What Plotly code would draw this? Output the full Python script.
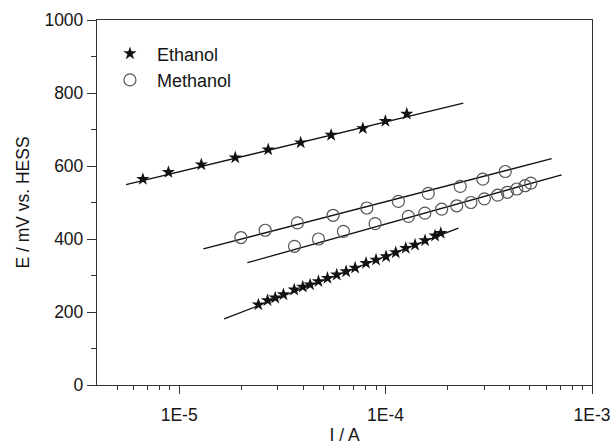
import plotly.graph_objects as go

# ---- data ----
a_x = [6.67e-6, 8.87e-6, 1.28e-5, 1.87e-5, 2.70e-5, 3.88e-5, 5.45e-5, 7.76e-5, 9.98e-5, 1.267e-4]
a_y = [564, 583, 604, 623, 645, 664, 685, 703, 723, 743]
a_fit_x = [5.53e-6, 2.38e-4]
a_fit_y = [549, 772]

b_x = [1.99e-5, 2.61e-5, 3.74e-5, 5.57e-5, 8.11e-5, 1.153e-4, 1.61e-4, 2.30e-4, 2.96e-4, 3.80e-4]
b_y = [404, 424, 444, 465, 485, 503, 525, 544, 564, 585]
b_fit_x = [1.31e-5, 6.38e-4]
b_fit_y = [373, 620]

c_x = [3.62e-5, 4.73e-5, 6.25e-5, 8.90e-5, 1.29e-4, 1.55e-4, 1.87e-4, 2.21e-4, 2.59e-4,
       3.01e-4, 3.49e-4, 3.89e-4, 4.32e-4, 4.74e-4, 5.05e-4]
c_y = [380, 400, 421, 442, 462, 471, 482, 491, 500, 510, 520, 528, 537, 546, 553]
c_fit_x = [2.14e-5, 7.13e-4]
c_fit_y = [335, 576]

d_x = [2.42e-5, 2.68e-5, 2.92e-5, 3.20e-5, 3.61e-5, 3.97e-5, 4.31e-5, 4.73e-5, 5.23e-5,
       5.80e-5, 6.44e-5, 7.12e-5, 8.04e-5, 8.99e-5, 1.006e-4, 1.12e-4, 1.252e-4, 1.389e-4,
       1.553e-4, 1.737e-4, 1.851e-4]
d_y = [220, 232, 239, 248, 261, 269, 275, 284, 293, 302, 311, 321, 334, 343, 352, 363,
       375, 384, 396, 409, 416]
d_fit_x = [1.652e-5, 2.252e-4]
d_fit_y = [181, 430]

curve_labels = ["a", "b", "c", "d"]
x_tickvals = [1e-5, 1e-4, 1e-3]
x_ticktext = ["1E-5", "1E-4", "1E-3"]
x_minor = [m * 10.0 ** e for e in (-6, -5, -4) for m in range(2, 10) if m * 10.0 ** e > 4.1e-6]
y_tickvals = [0, 200, 400, 600, 800, 1000]
y_minor = [100, 300, 500, 700, 900]

FONT = "Liberation Sans, Arial, Helvetica, sans-serif"
TXT = "#151515"

fig = go.Figure()

fits = [(a_fit_x, a_fit_y), (b_fit_x, b_fit_y), (c_fit_x, c_fit_y), (d_fit_x, d_fit_y)]
for fx, fy in fits:
    fig.add_trace(go.Scatter(x=fx, y=fy, mode="lines", showlegend=False,
                             line=dict(color="#111", width=1.3), hoverinfo="skip"))

star = dict(symbol="star", size=10, color="#111", line=dict(width=0))
circ = dict(symbol="circle-open", size=12, color="#555", line=dict(width=1.2, color="#555"))

fig.add_trace(go.Scatter(x=a_x, y=a_y, mode="markers", name="Ethanol", marker=star,
                         legendgroup="eth"))
fig.add_trace(go.Scatter(x=d_x, y=d_y, mode="markers", name="Ethanol", marker=star,
                         legendgroup="eth", showlegend=False))
fig.add_trace(go.Scatter(x=b_x, y=b_y, mode="markers", name="Methanol", marker=circ,
                         legendgroup="meth"))
fig.add_trace(go.Scatter(x=c_x, y=c_y, mode="markers", name="Methanol", marker=circ,
                         legendgroup="meth", showlegend=False))

for lab, (fx, fy), dy in zip(curve_labels, fits, [2, 2, -4, 0]):
    fig.add_annotation(x=fx[-1], y=fy[-1], text=lab, showarrow=False, xref="x", yref="y",
                       xanchor="left", yanchor="middle", xshift=6, yshift=dy,
                       font=dict(family=FONT, size=18, color=TXT))

fig.update_layout(
    width=615, height=445,
    margin=dict(l=97, r=23, t=20, b=60),
    paper_bgcolor="white", plot_bgcolor="white",
    font=dict(family=FONT, size=17.5, color=TXT),
    legend=dict(x=0.012, y=0.958, xanchor="left", yanchor="top",
                bgcolor="rgba(0,0,0,0)", font=dict(family=FONT, size=18, color=TXT),
                itemwidth=44, tracegroupgap=0),
    xaxis=dict(type="log", range=[-5.398, -3.0], showgrid=False, zeroline=False,
               showline=True, linecolor="#333", linewidth=1.3, mirror=True,
               ticks="outside", ticklen=8, tickwidth=1.2, tickcolor="#333",
               tickvals=x_tickvals, ticktext=x_ticktext, ticklabelstandoff=6,
               tickfont=dict(family=FONT, size=17.5, color=TXT),
               automargin=False,
               minor=dict(ticks="outside", ticklen=4, tickwidth=1.1, tickcolor="#333",
                          tickvals=x_minor, showgrid=False),
               title=dict(text="I / A", font=dict(family=FONT, size=17.5, color=TXT), standoff=12)),
    yaxis=dict(range=[0, 1000], showgrid=False, zeroline=False,
               showline=True, linecolor="#333", linewidth=1.3, mirror=True,
               ticks="outside", ticklen=9, tickwidth=1.2, tickcolor="#333",
               tickvals=y_tickvals, automargin=False,
               tickfont=dict(family=FONT, size=17.5, color=TXT),
               minor=dict(ticks="outside", ticklen=5, tickwidth=1.1, tickcolor="#333",
                          tickvals=y_minor, showgrid=False),
               title=dict(text="E / mV vs. HESS", font=dict(family=FONT, size=17.5, color=TXT),
                          standoff=10)),
)

fig.write_html("out.html")
